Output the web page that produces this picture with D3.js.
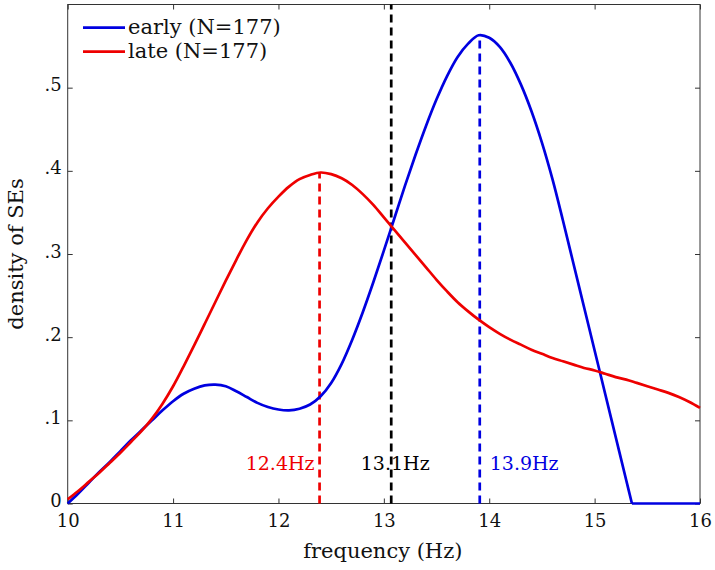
<!DOCTYPE html>
<html>
<head>
<meta charset="utf-8">
<script src="https://cdn.jsdelivr.net/npm/d3@7"></script>
<style>
  html, body { margin: 0; padding: 0; background: #fff; }
  svg { display: block; }
  text { font-family: "DejaVu Serif", serif; }
</style>
</head>
<body>
<svg id="chart" width="715" height="570"></svg>
<script>
// ---- data ----
const earlyFreq = [10.0, 10.1, 10.2, 10.3, 10.4, 10.5, 10.6, 10.7, 10.8, 10.9,
  11.0, 11.1, 11.2, 11.3, 11.4, 11.5, 11.6, 11.7, 11.8, 11.9,
  12.0, 12.1, 12.2, 12.3, 12.4, 12.5, 12.6, 12.7, 12.8, 12.9,
  13.0, 13.1, 13.2, 13.3, 13.4, 13.5, 13.6, 13.7, 13.8, 13.9,
  14.0, 14.1, 14.2, 14.3, 14.4, 14.5, 14.6, 14.7, 14.8, 14.9,
  15.0, 15.1, 15.2, 15.3, 15.354, 15.5, 15.75, 16.0];
const earlyDensity = [0.000, 0.012, 0.025, 0.038, 0.050, 0.063, 0.076, 0.088, 0.100, 0.112,
  0.123, 0.132, 0.138, 0.142, 0.143, 0.141, 0.135, 0.128, 0.121, 0.116,
  0.113, 0.112, 0.114, 0.119, 0.129, 0.145, 0.168, 0.197, 0.230, 0.266,
  0.304, 0.343, 0.382, 0.419, 0.454, 0.486, 0.514, 0.537, 0.553, 0.563,
  0.560, 0.549, 0.530, 0.504, 0.472, 0.434, 0.390, 0.340, 0.288, 0.236,
  0.184, 0.132, 0.080, 0.028, 0.000, 0.000, 0.000, 0.000];
const lateFreq = [10.0, 10.1, 10.2, 10.3, 10.4, 10.5, 10.6, 10.7, 10.8, 10.9,
  11.0, 11.1, 11.2, 11.3, 11.4, 11.5, 11.6, 11.7, 11.8, 11.9,
  12.0, 12.1, 12.2, 12.3, 12.4, 12.5, 12.6, 12.7, 12.8, 12.9,
  13.0, 13.1, 13.2, 13.3, 13.4, 13.5, 13.6, 13.7, 13.8, 13.9,
  14.0, 14.1, 14.2, 14.3, 14.4, 14.5, 14.6, 14.7, 14.8, 14.9,
  15.0, 15.1, 15.2, 15.3, 15.4, 15.5, 15.6, 15.7, 15.8, 15.9, 16.0];
const lateDensity = [0.005, 0.015, 0.026, 0.037, 0.049, 0.061, 0.074, 0.087, 0.102, 0.120,
  0.141, 0.165, 0.190, 0.216, 0.242, 0.268, 0.293, 0.317, 0.338, 0.355,
  0.369, 0.381, 0.390, 0.395, 0.398, 0.396, 0.391, 0.383, 0.372, 0.359,
  0.344, 0.329, 0.314, 0.299, 0.284, 0.269, 0.255, 0.242, 0.231, 0.221,
  0.212, 0.204, 0.197, 0.191, 0.185, 0.180, 0.175, 0.171, 0.167, 0.163,
  0.160, 0.156, 0.152, 0.149, 0.145, 0.141, 0.137, 0.133, 0.128, 0.122, 0.115];
const seriesNames = ["early (N=177)", "late (N=177)"];
const seriesColors = ["#0000e0", "#ee0000"];
const medianFreq = [12.39, 13.07, 13.91];
const medianTop = [0.398, 0.6, 0.563];
const medianLabels = ["12.4Hz", "13.1Hz", "13.9Hz"];
const medianColors = ["#ee0000", "#000000", "#0000e0"];
const xTicks = [10, 11, 12, 13, 14, 15, 16];
const yTicks = [0, 0.1, 0.2, 0.3, 0.4, 0.5];
const yTickLabels = ["0", ".1", ".2", ".3", ".4", ".5"];

// ---- layout ----
const L = 67.7, R = 700, T = 4.5, B = 503.5;
const x = d3.scaleLinear().domain([10, 16]).range([L, R]);
const y = d3.scaleLinear().domain([0, 0.6]).range([B, T]);
const svg = d3.select("#chart");
const axisColor = "#333";
const tickFs = 18, labelFs = 21;

// frame
svg.append("rect").attr("x", L).attr("y", T).attr("width", R - L).attr("height", B - T)
  .attr("fill", "none").attr("stroke", axisColor).attr("stroke-width", 1);

// axes (inner ticks)
const gx = svg.append("g").attr("transform", `translate(0,${B})`)
  .call(d3.axisBottom(x).tickValues(xTicks).tickSizeInner(-5).tickSizeOuter(0).tickFormat(d3.format("d")));
const gxt = svg.append("g").attr("transform", `translate(0,${T})`)
  .call(d3.axisTop(x).tickValues(xTicks).tickSizeInner(-5).tickSizeOuter(0).tickFormat(""));
const gy = svg.append("g").attr("transform", `translate(${L},0)`)
  .call(d3.axisLeft(y).tickValues(yTicks).tickSizeInner(-5).tickSizeOuter(0).tickPadding(6)
    .tickFormat((d, i) => yTickLabels[i]));
const gyr = svg.append("g").attr("transform", `translate(${R},0)`)
  .call(d3.axisRight(y).tickValues(yTicks).tickSizeInner(-5).tickSizeOuter(0).tickFormat(""));
[gx, gxt, gy, gyr].forEach(g => {
  g.select(".domain").remove();
  g.selectAll("line").attr("stroke", axisColor);
  g.selectAll("text").attr("font-family", "DejaVu Serif").attr("font-size", tickFs).attr("fill", "#111");
});
gx.selectAll("text").attr("dy", null).attr("y", 23);
gy.selectAll("text").attr("dy", null).attr("y", 3);

// axis labels
svg.append("text").attr("x", (L + R) / 2 - 1).attr("y", 558).attr("text-anchor", "middle")
  .attr("font-size", labelFs).attr("fill", "#111").text("frequency (Hz)");
svg.append("text").attr("transform", `translate(23,${(T + B) / 2}) rotate(-90)`)
  .attr("text-anchor", "middle").attr("font-size", labelFs).attr("fill", "#111").text("density of SEs");

// median dashed lines
medianFreq.forEach((f, i) => {
  svg.append("line").attr("x1", x(f)).attr("x2", x(f)).attr("y1", y(0)).attr("y2", y(medianTop[i]))
    .attr("stroke", medianColors[i]).attr("stroke-width", 2.7).attr("stroke-dasharray", "8,5");
});

// curves
const smooth = d3.line().x(d => x(d[0])).y(d => y(d[1])).curve(d3.curveCatmullRom.alpha(0.5));
const straight = d3.line().x(d => x(d[0])).y(d => y(d[1]));
const earlyData = earlyFreq.map((f, i) => [f, earlyDensity[i]]);
const lateData = lateFreq.map((f, i) => [f, lateDensity[i]]);
const earlyCut = 15.354; // blue curve hits zero here and stays flat
svg.append("path").datum(earlyData.filter(d => d[0] <= earlyCut)).attr("d", smooth).attr("fill", "none")
  .attr("stroke", seriesColors[0]).attr("stroke-width", 2.7);
svg.append("path").datum(earlyData.filter(d => d[0] >= earlyCut)).attr("d", straight).attr("fill", "none")
  .attr("stroke", seriesColors[0]).attr("stroke-width", 2.7);
svg.append("path").datum(lateData).attr("d", smooth).attr("fill", "none")
  .attr("stroke", seriesColors[1]).attr("stroke-width", 2.7);

// median labels
const labelAnchor = ["end", "middle", "start"];
const labelDx = [-5, 4, 10];
medianFreq.forEach((f, i) => {
  svg.append("text").attr("x", x(f) + labelDx[i]).attr("y", 470).attr("text-anchor", labelAnchor[i])
    .attr("font-size", 19).attr("fill", medianColors[i]).text(medianLabels[i]);
});

// legend
seriesNames.forEach((name, i) => {
  const ly = 27.7 + i * 24;
  svg.append("line").attr("x1", 83).attr("x2", 125).attr("y1", ly).attr("y2", ly)
    .attr("stroke", seriesColors[i]).attr("stroke-width", 2.7);
  svg.append("text").attr("x", 128).attr("y", ly + 6).attr("font-size", labelFs).attr("fill", "#111").text(name);
});
</script>
</body>
</html>
